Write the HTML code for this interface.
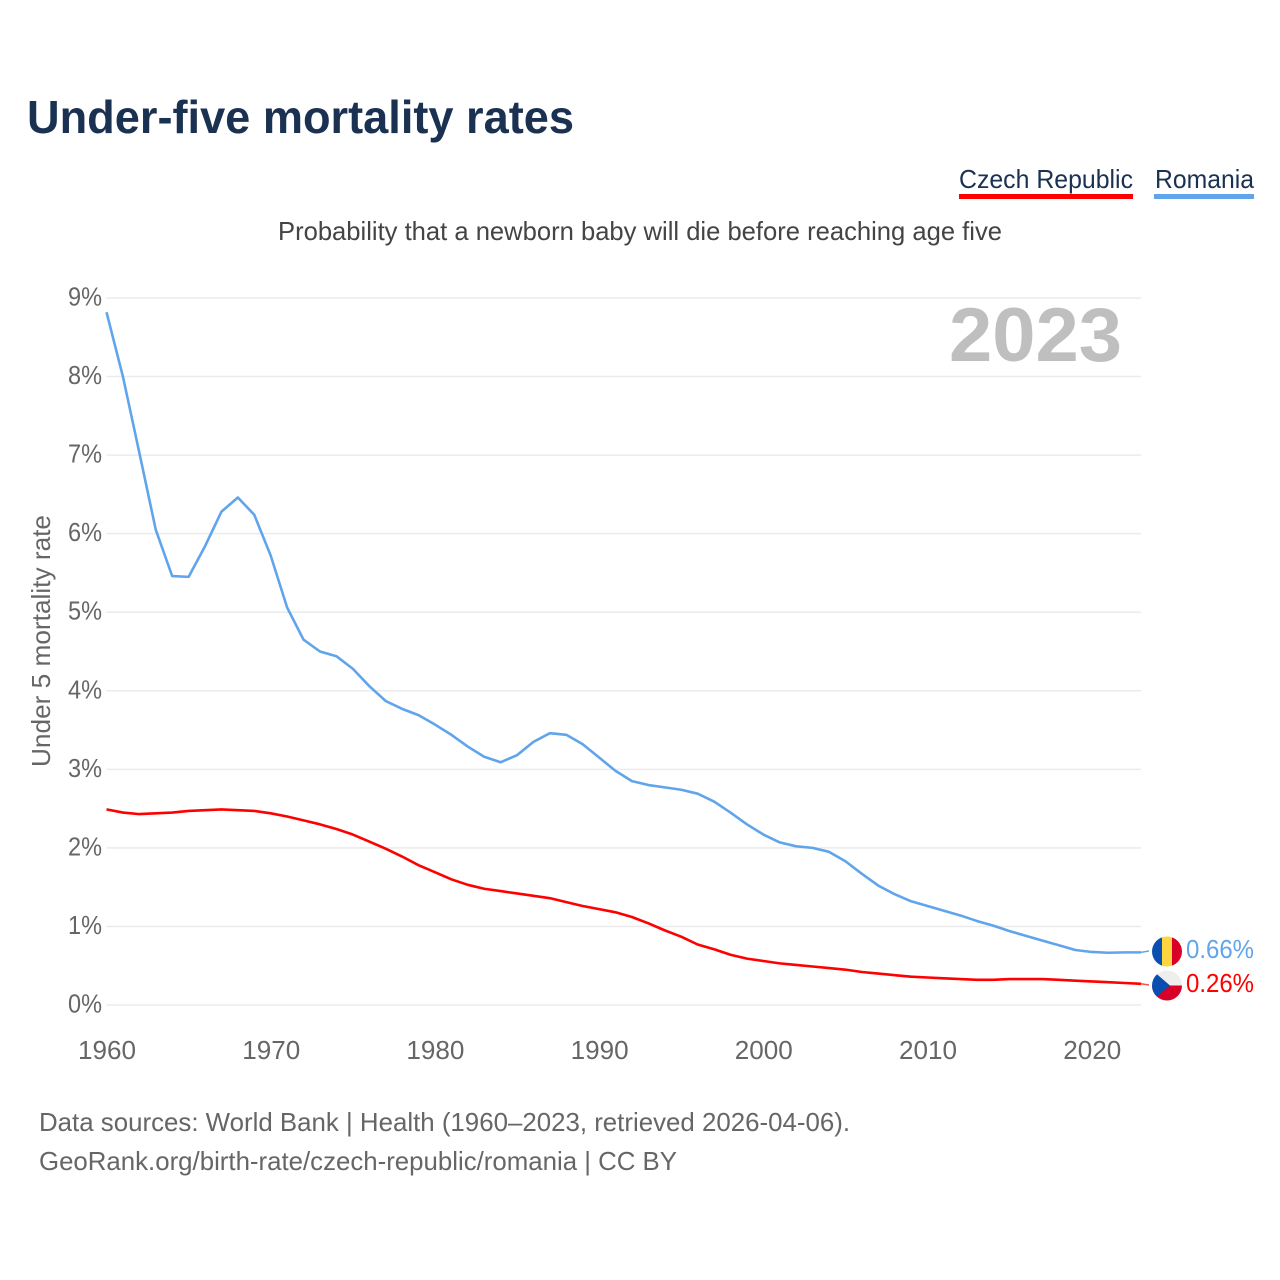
<!DOCTYPE html>
<html lang="en">
<head>
<meta charset="utf-8">
<title>Under-five mortality rates</title>
<style>
html,body{margin:0;padding:0;background:#fff;width:1280px;height:1280px;overflow:hidden}
svg{display:block}
text{font-family:"Liberation Sans",sans-serif}
</style>
</head>
<body>
<svg id="chart" xmlns="http://www.w3.org/2000/svg" width="1280" height="1280" viewBox="0 0 1280 1280">
  <rect x="0" y="0" width="1280" height="1280" fill="#fff"/>
  <text x="27" y="133" font-size="46" font-weight="700" fill="#1a3152" textLength="547" lengthAdjust="spacingAndGlyphs">Under-five mortality rates</text>
  <g>
    <text x="959" y="188" font-size="26" fill="#1a3152" textLength="174" lengthAdjust="spacingAndGlyphs">Czech Republic</text>
    <rect x="959" y="194" width="174" height="5" fill="#ff0000"/>
  </g>
  <g>
    <text x="1155" y="188" font-size="26" fill="#1a3152" textLength="99" lengthAdjust="spacingAndGlyphs">Romania</text>
    <rect x="1154" y="194" width="100" height="5" fill="#60a5ec"/>
  </g>
  <text x="278" y="240" font-size="26" fill="#444" textLength="724" lengthAdjust="spacingAndGlyphs">Probability that a newborn baby will die before reaching age five</text>
  <g id="grid"></g>
  <g id="yticks"></g>
  <g id="xticks"></g>
  <text transform="translate(50,767) rotate(-90)" x="0" y="0" font-size="26" fill="#666" textLength="252" lengthAdjust="spacingAndGlyphs">Under 5 mortality rate</text>
  <text id="year-label" x="1122" y="361" text-anchor="end" font-size="76" font-weight="700" fill="#bfbfbf" textLength="173" lengthAdjust="spacingAndGlyphs"></text>
  <g id="series"></g>
  <g id="flags">
    <defs>
      <clipPath id="clip-ro"><circle cx="1167" cy="951.5" r="15"/></clipPath>
      <clipPath id="clip-cz"><circle cx="1167" cy="985.5" r="15"/></clipPath>
    </defs>
    <g clip-path="url(#clip-ro)">
      <rect x="1152" y="936" width="10" height="31" fill="#0a4fb0"/>
      <rect x="1162" y="936" width="10" height="31" fill="#fdd63f"/>
      <rect x="1172" y="936" width="10" height="31" fill="#d80027"/>
    </g>
    <g clip-path="url(#clip-cz)">
      <rect x="1152" y="970" width="30" height="15.5" fill="#eeeeee"/>
      <rect x="1152" y="985.5" width="30" height="15.5" fill="#d80027"/>
      <polygon points="1152,970 1152,1001 1170,985.5" fill="#0a4fb0"/>
    </g>
  </g>
  <g id="endlabels"></g>
  <text x="39" y="1131" font-size="26" fill="#666" textLength="811" lengthAdjust="spacingAndGlyphs">Data sources: World Bank | Health (1960–2023, retrieved 2026-04-06).</text>
  <text x="39" y="1170" font-size="26" fill="#666" textLength="638" lengthAdjust="spacingAndGlyphs">GeoRank.org/birth-rate/czech-republic/romania | CC BY</text>
</svg>
<script>
const startYear = 1960;
const endYear = 2023;
const yTicks = [0, 1, 2, 3, 4, 5, 6, 7, 8, 9];
const xTicks = [1960, 1970, 1980, 1990, 2000, 2010, 2020];
const romania = [
  8.82, 8.00, 7.03, 6.05, 5.46, 5.45, 5.84, 6.28, 6.46, 6.24,
  5.72, 5.06, 4.65, 4.50, 4.44, 4.28, 4.06, 3.87, 3.77, 3.69,
  3.57, 3.44, 3.29, 3.16, 3.09, 3.18, 3.35, 3.46, 3.44, 3.32,
  3.15, 2.98, 2.85, 2.80, 2.77, 2.74, 2.69, 2.59, 2.45, 2.30,
  2.17, 2.07, 2.02, 2.00, 1.95, 1.83, 1.67, 1.52, 1.41, 1.32,
  1.26, 1.20, 1.14, 1.07, 1.01, 0.94, 0.88, 0.82, 0.76, 0.70,
  0.675, 0.665, 0.67, 0.67
];
const czechRepublic = [
  2.49, 2.45, 2.43, 2.44, 2.45, 2.47, 2.48, 2.49, 2.48, 2.47,
  2.44, 2.40, 2.35, 2.30, 2.24, 2.17, 2.08, 1.99, 1.89, 1.78,
  1.69, 1.60, 1.53, 1.48, 1.45, 1.42, 1.39, 1.36, 1.31, 1.26,
  1.22, 1.18, 1.12, 1.04, 0.95, 0.87, 0.77, 0.71, 0.64, 0.59,
  0.56, 0.53, 0.51, 0.49, 0.47, 0.45, 0.42, 0.40, 0.38, 0.36,
  0.35, 0.34, 0.33, 0.32, 0.32, 0.33, 0.33, 0.33, 0.32, 0.31,
  0.30, 0.29, 0.28, 0.27
];
const endLabels = ['0.26%', '0.66%'];

const NS = 'http://www.w3.org/2000/svg';
const left = 106.5, right = 1141, top0 = 298, bottom = 1005;
function xScale(year) { return left + (year - startYear) * (right - left) / (endYear - startYear); }
function yScale(v) { return bottom - v * (bottom - top0) / 9; }
function make(tag, parent) { const el = document.createElementNS(NS, tag); parent.appendChild(el); return el; }

const grid = document.getElementById('grid');
const yG = document.getElementById('yticks');
const xG = document.getElementById('xticks');
const seriesG = document.getElementById('series');
const endG = document.getElementById('endlabels');

document.getElementById('year-label').textContent = String(endYear);

yTicks.forEach(function (t) {
  const line = make('line', grid);
  
  
  line.setAttribute('x1', left);
  line.setAttribute('x2', right);
  line.setAttribute('y1', yScale(t));
  line.setAttribute('y2', yScale(t));
  line.setAttribute('stroke', '#ebebeb');
  line.setAttribute('stroke-width', '1.5');
  const label = make('text', yG);
  
  
  label.setAttribute('x', 102);
  label.setAttribute('y', yScale(t) + 7.5);
  label.setAttribute('text-anchor', 'end');
  label.setAttribute('font-size', '26');
  label.setAttribute('fill', '#666');
  label.setAttribute('textLength', '34');
  label.setAttribute('lengthAdjust', 'spacingAndGlyphs');
  label.textContent = t + '%';
});

xTicks.forEach(function (t) {
  const label = make('text', xG);
  
  
  label.setAttribute('x', xScale(t) + 0.5);
  label.setAttribute('y', 1059);
  label.setAttribute('text-anchor', 'middle');
  label.setAttribute('font-size', '26');
  label.setAttribute('fill', '#666');
  label.setAttribute('textLength', '58');
  label.setAttribute('lengthAdjust', 'spacingAndGlyphs');
  label.textContent = t;
});

function linePath(values) {
  return values.map(function (v, i) {
    return (i ? 'L' : 'M') + xScale(startYear + i).toFixed(2) + ' ' + yScale(v).toFixed(2);
  }).join(' ');
}

const romaniaLine = make('path', seriesG);


romaniaLine.setAttribute('d', linePath(romania));
romaniaLine.setAttribute('fill', 'none');
romaniaLine.setAttribute('stroke', '#60a5ec');
romaniaLine.setAttribute('stroke-width', '2.6');
romaniaLine.setAttribute('stroke-linejoin', 'round');

const czechLine = make('path', seriesG);


czechLine.setAttribute('d', linePath(czechRepublic));
czechLine.setAttribute('fill', 'none');
czechLine.setAttribute('stroke', '#ff0000');
czechLine.setAttribute('stroke-width', '2.6');
czechLine.setAttribute('stroke-linejoin', 'round');

const romaniaConnector = make('line', seriesG);


romaniaConnector.setAttribute('x1', right);
romaniaConnector.setAttribute('x2', 1149);
romaniaConnector.setAttribute('y1', yScale(romania[romania.length - 1]));
romaniaConnector.setAttribute('y2', 951);
romaniaConnector.setAttribute('stroke', '#60a5ec');
romaniaConnector.setAttribute('stroke-width', '1.5');

const czechConnector = make('line', seriesG);


czechConnector.setAttribute('x1', right);
czechConnector.setAttribute('x2', 1149);
czechConnector.setAttribute('y1', yScale(czechRepublic[czechRepublic.length - 1]));
czechConnector.setAttribute('y2', 985);
czechConnector.setAttribute('stroke', '#ff0000');
czechConnector.setAttribute('stroke-opacity', '0.7');
czechConnector.setAttribute('stroke-width', '1.5');

const czechEnd = make('text', endG);


czechEnd.setAttribute('x', 1186);
czechEnd.setAttribute('y', 992);
czechEnd.setAttribute('font-size', '26');
czechEnd.setAttribute('fill', '#ff0000');
czechEnd.setAttribute('textLength', '68');
czechEnd.setAttribute('lengthAdjust', 'spacingAndGlyphs');
czechEnd.textContent = endLabels[0];

const romaniaEnd = make('text', endG);


romaniaEnd.setAttribute('x', 1186);
romaniaEnd.setAttribute('y', 958);
romaniaEnd.setAttribute('font-size', '26');
romaniaEnd.setAttribute('fill', '#60a5ec');
romaniaEnd.setAttribute('textLength', '68');
romaniaEnd.setAttribute('lengthAdjust', 'spacingAndGlyphs');
romaniaEnd.textContent = endLabels[1];
</script>
</body>
</html>
